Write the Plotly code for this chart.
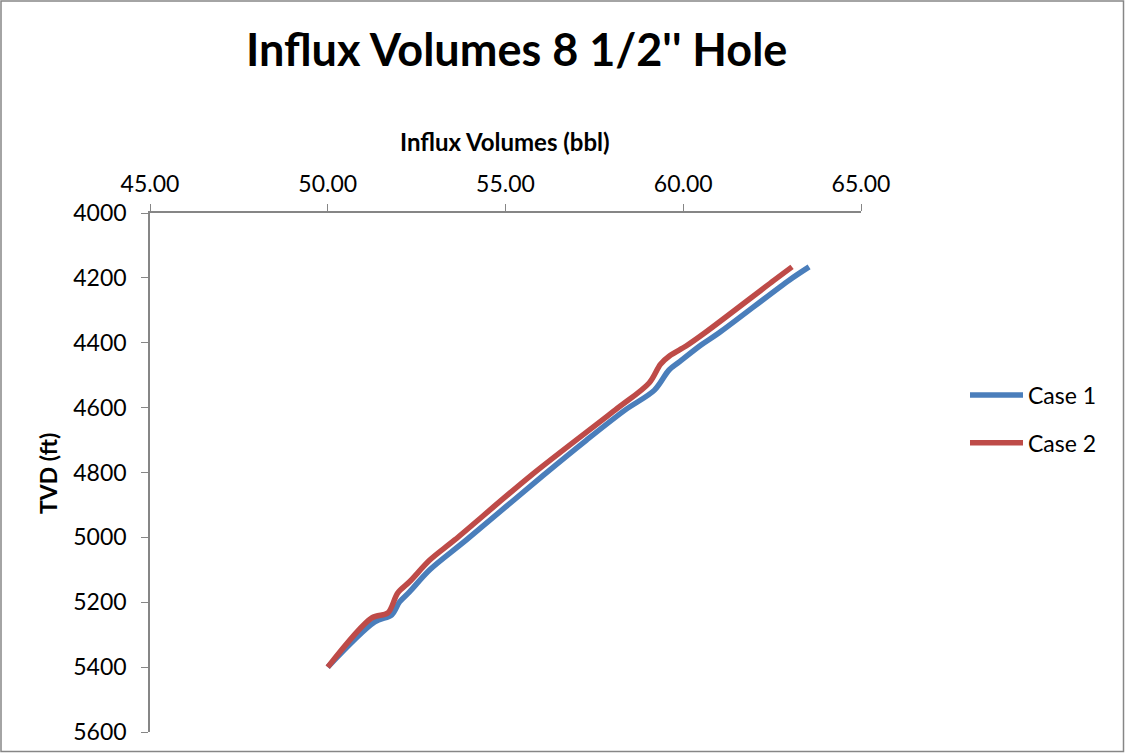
import plotly.graph_objects as go

# Influx volume (bbl) against true vertical depth (ft)
case1_tvd = [4166, 4207, 4370, 4407, 4459, 4484, 4546, 4607, 4700, 4808, 5008, 5100, 5168, 5199, 5239, 5261, 5400]
case1_vol = [63.54, 62.98, 61.00, 60.50, 59.89, 59.60, 59.19, 58.37, 57.28, 56.07, 53.90, 52.87, 52.30, 52.02, 51.80, 51.32, 50.00]

case2_tvd = [4166, 4207, 4370, 4410, 4440, 4466, 4524, 4607, 4808, 5008, 5070, 5137, 5171, 5233, 5248, 5400]
case2_vol = [63.06, 62.56, 60.60, 60.08, 59.62, 59.36, 59.04, 58.09, 55.73, 53.57, 52.87, 52.30, 51.97, 51.69, 51.24, 50.00]

series_names = ["Case 1", "Case 2"]
series_colors = ["#4A7EBB", "#BE4B48"]

x_ticks = [45, 50, 55, 60, 65]
y_ticks = [4000, 4200, 4400, 4600, 4800, 5000, 5200, 5400, 5600]

FONT = "Lato, Carlito, Calibri, sans-serif"
W, H = 1125, 753
L, R, T, B = 150, 264, 213, 21
PW, PH = W - L - R, H - T - B

fig = go.Figure()
for name, color, vol, tvd in zip(series_names, series_colors,
                                 [case1_vol, case2_vol], [case1_tvd, case2_tvd]):
    fig.add_trace(go.Scatter(
        x=vol, y=tvd, name=name, mode="lines",
        line=dict(color=color, width=5.5, shape="spline", smoothing=0.9),
        legendgroup=name,
    ))

axis_gray = "#868686"
fig.update_layout(
    width=W, height=H,
    margin=dict(l=L, r=R, t=T, b=B, autoexpand=False),
    paper_bgcolor="white", plot_bgcolor="white",
    font=dict(family=FONT, size=23, color="black"),
    showlegend=True,
    legend=dict(x=(965 - L) / PW, y=1 - (419 - T) / PH,
                xanchor="left", yanchor="middle",
                font=dict(size=23), traceorder="grouped", tracegroupgap=15,
                itemwidth=53, bgcolor="rgba(0,0,0,0)"),
    xaxis=dict(side="top", range=[45, 65], tickvals=x_ticks, tickformat=".2f",
               showgrid=False, zeroline=False, showline=True, linecolor=axis_gray,
               linewidth=1.5, ticks="outside", ticklen=7, tickcolor=axis_gray,
               tickfont=dict(size=23), ticklabelstandoff=3),
    yaxis=dict(range=[5600, 4000], tickvals=y_ticks,
               showgrid=False, zeroline=False, showline=True, linecolor=axis_gray,
               linewidth=1.5, ticks="outside", ticklen=7, tickcolor=axis_gray,
               tickfont=dict(size=23), ticklabelstandoff=10),
    annotations=[
        dict(text="<b>Influx Volumes 8 1/2'' Hole</b>", xref="paper", yref="paper",
             x=(516 - L) / PW, y=1 + (T - 49) / PH,
             xanchor="center", yanchor="middle", showarrow=False,
             font=dict(size=45, family=FONT)),
        dict(text="<b>Influx Volumes (bbl)</b>", xref="paper", yref="paper",
             x=(505 - L) / PW, y=1 + (T - 141) / PH,
             xanchor="center", yanchor="middle", showarrow=False,
             font=dict(size=24, family=FONT)),
        dict(text="<b>TVD (ft)</b>", xref="paper", yref="paper",
             x=(48 - L) / PW, y=1 - (474 - T) / PH,
             xanchor="center", yanchor="middle", showarrow=False, textangle=-90,
             font=dict(size=23, family=FONT)),
    ],
    shapes=[dict(type="rect", xref="paper", yref="paper",
                 x0=(1 - L) / PW, x1=(W - 1.5 - L) / PW,
                 y0=-(B - 1.5) / PH, y1=1 + (T - 1) / PH,
                 line=dict(color=axis_gray, width=1.5), layer="below")],
)

fig.write_html("out.html")
